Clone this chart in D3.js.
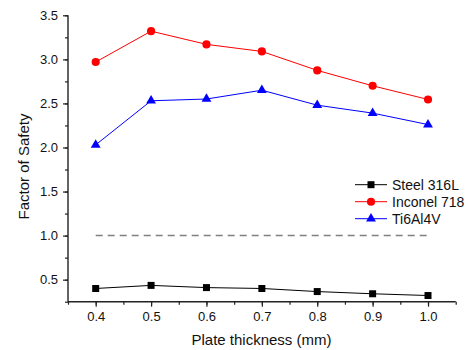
<!DOCTYPE html>
<html><head><meta charset="utf-8">
<script src="https://cdn.jsdelivr.net/npm/d3@7"></script>
<style>body{margin:0;background:#fff}svg{display:block}text{font-family:"Liberation Sans",Arial,sans-serif}</style>
</head><body><svg id="c" width="468" height="350"></svg>
<script>
const thickness = [0.4, 0.5, 0.6, 0.7, 0.8, 0.9, 1.0];
const steel316L = [0.40, 0.435, 0.41, 0.40, 0.365, 0.34, 0.32];
const inconel718 = [2.97, 3.32, 3.17, 3.09, 2.875, 2.70, 2.545];
const ti6Al4V = [2.03, 2.53, 2.55, 2.65, 2.48, 2.39, 2.26];
const seriesNames = ["Steel 316L", "Inconel 718", "Ti6Al4V"];
const limitValue = 1.0;
const xTicks = [0.4, 0.5, 0.6, 0.7, 0.8, 0.9, 1.0];
const yTicks = [0.5, 1.0, 1.5, 2.0, 2.5, 3.0, 3.5];

const svg = d3.select("#c");
const x = d3.scaleLinear().domain([0.35, 1.05]).range([68, 455.7]);
const y = d3.scaleLinear().domain([0.25, 3.5]).range([301.7, 15.3]);

// axes
const xMinor = d3.range(0.35, 1.0501, 0.05).map(v => +v.toFixed(2));
const yMinor = d3.range(0.25, 3.5001, 0.25).map(v => +v.toFixed(2));
const gx = svg.append("g").attr("transform", "translate(0,301.7)");
gx.call(d3.axisBottom(x).tickValues(xMinor).tickSize(3).tickFormat(""));
gx.call(g => g.append("g").call(d3.axisBottom(x).tickValues(xTicks).tickSize(5).tickFormat(d3.format(".1f"))));
const gy = svg.append("g").attr("transform", "translate(68,0)");
gy.call(d3.axisLeft(y).tickValues(yMinor).tickSize(3).tickFormat(""));
gy.call(g => g.append("g").call(d3.axisLeft(y).tickValues(yTicks).tickSize(5).tickFormat(d3.format(".1f"))));
svg.selectAll(".domain").attr("stroke", "#222").attr("stroke-width", 1.4);
svg.selectAll(".tick line").attr("stroke", "#222").attr("stroke-width", 1.2);
svg.selectAll(".tick text").attr("font-size", 13).attr("fill", "#111").attr("font-family", "Liberation Sans, Arial, sans-serif");
gx.selectAll(".tick text").attr("dy", "0.71em").attr("y", 10);
gy.selectAll(".tick text").attr("x", -10);
gx.select(".domain").attr("d", `M68,0H455.7`);
gy.select(".domain").attr("d", `M0,15.3V301.7`);
svg.selectAll("g g .domain").remove();

// dashed limit line
svg.append("line").attr("x1", x(0.4)).attr("x2", x(1.0)).attr("y1", y(limitValue)).attr("y2", y(limitValue))
  .attr("stroke", "#808080").attr("stroke-width", 1.5).attr("stroke-dasharray", "7,5");

const series = [
  {name: seriesNames[0], vals: steel316L, color: "#000000", sym: d3.symbolSquare, size: 49},
  {name: seriesNames[1], vals: inconel718, color: "#ff0000", sym: d3.symbolCircle, size: 52},
  {name: seriesNames[2], vals: ti6Al4V, color: "#0000ff", sym: d3.symbolTriangle, size: 42}
];
const line = d3.line().x(d => x(d[0])).y(d => y(d[1]));
series.forEach(s => {
  const pts = thickness.map((t, i) => [t, s.vals[i]]);
  svg.append("path").attr("d", line(pts)).attr("fill", "none").attr("stroke", s.color).attr("stroke-width", 1);
  svg.selectAll(null).data(pts).enter().append("path")
    .attr("d", d3.symbol().type(s.sym).size(s.size))
    .attr("transform", d => `translate(${x(d[0])},${y(d[1])})`)
    .attr("fill", s.color);
});

// legend
series.forEach((s, i) => {
  const ly = 184.7 + i * 17;
  const g = svg.append("g");
  g.append("line").attr("x1", 355).attr("x2", 387).attr("y1", ly).attr("y2", ly).attr("stroke", s.color).attr("stroke-width", 1);
  g.append("path").attr("d", d3.symbol().type(s.sym).size(s.size)).attr("transform", `translate(371,${ly})`).attr("fill", s.color);
  g.append("text").attr("x", 392).attr("y", ly).attr("dy", "0.35em").attr("font-size", 14).attr("fill", "#111").text(s.name);
});

// axis titles
svg.append("text").attr("x", 261.5).attr("y", 344.5).attr("text-anchor", "middle").attr("font-size", 15).attr("fill", "#111").text("Plate thickness (mm)");
svg.append("text").attr("transform", "translate(28.5,166.5) rotate(-90)").attr("text-anchor", "middle").attr("font-size", 15).attr("fill", "#111").text("Factor of Safety");
</script></body></html>
